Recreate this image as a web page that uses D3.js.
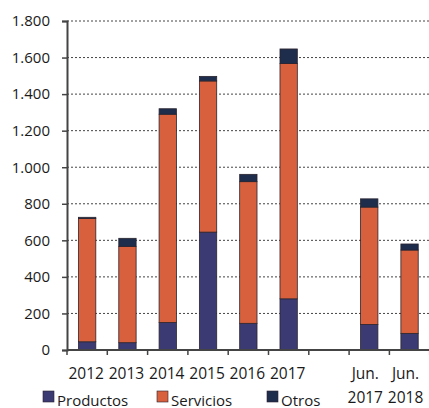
<!DOCTYPE html>
<html>
<head>
<meta charset="utf-8">
<script src="https://cdn.jsdelivr.net/npm/d3@7"></script>
<style>
  body { margin: 0; background: #fff; }
  svg text { font-family: "Open Sans", "Noto Sans", sans-serif; fill: #1a1a1a; }
</style>
</head>
<body>
<svg id="chart" width="429" height="408"></svg>
<script>
// categories, the empty slot stays as a gap between 2017 and Jun. 2017
const categories = ['2012', '2013', '2014', '2015', '2016', '2017', '', 'Jun. 2017', 'Jun. 2018'];
const productos = [45, 40, 150, 645, 146, 280, null, 140, 91];
const servicios = [675, 527, 1140, 827, 775, 1288, null, 642, 456];
const otros = [6, 44, 30, 25, 40, 79, null, 45, 33];
const yTicks = [0, 200, 400, 600, 800, 1000, 1200, 1400, 1600, 1800];
const seriesNames = ['Productos', 'Servicios', 'Otros'];
const colors = ['#3c3a72', '#d9603c', '#1e2d4c'];

const svg = d3.select('#chart');
const margin = {left: 67, right: 0, top: 21, bottom: 58};
const W = 429, H = 408;

const x = d3.scaleBand()
    .domain(categories.map((d, i) => i))
    .range([margin.left, margin.left + 40.3 * 9])
    .paddingInner(0.57).paddingOuter(0.285);
const y = d3.scaleLinear().domain([0, 1800]).range([H - margin.bottom, margin.top]);

const fmt = v => d3.format(',')(v).replace(/,/g, '.');

// dotted gridlines
svg.append('g').selectAll('line')
    .data(yTicks.filter(d => d > 0))
    .join('line')
    .attr('x1', margin.left).attr('x2', W)
    .attr('y1', d => y(d)).attr('y2', d => y(d))
    .attr('stroke', '#444').attr('stroke-width', 1)
    .attr('stroke-dasharray', '2,2');

// stacked bars
const rows = categories.map((c, i) => ({i, Productos: productos[i], Servicios: servicios[i], Otros: otros[i]}))
    .filter(r => r.Productos != null);
const stack = d3.stack().keys(seriesNames)(rows);

svg.append('g').selectAll('g')
    .data(stack)
    .join('g')
    .attr('fill', (d, k) => colors[k])
    .selectAll('rect')
    .data(d => d)
    .join('rect')
    .attr('x', d => x(d.data.i))
    .attr('width', x.bandwidth())
    .attr('y', d => y(d[1]))
    .attr('height', d => y(d[0]) - y(d[1]))
    .attr('stroke', '#2a2430').attr('stroke-width', 0.8);

// y axis
const yAxis = svg.append('g')
    .attr('transform', `translate(${margin.left},0)`)
    .call(d3.axisLeft(y).tickValues(yTicks).tickFormat(fmt).tickSize(5).tickPadding(12));
yAxis.select('.domain').attr('stroke', '#444').attr('stroke-width', 2);
yAxis.selectAll('.tick line').attr('stroke', '#444').attr('stroke-width', 1.5);
yAxis.selectAll('.tick text').attr('font-size', 15).attr('font-family', '"Open Sans", sans-serif').attr('fill', '#1a1a1a');

// x axis with boundary ticks
const xAxisY = y(0);
svg.append('line')
    .attr('x1', margin.left).attr('x2', W)
    .attr('y1', xAxisY).attr('y2', xAxisY)
    .attr('stroke', '#444').attr('stroke-width', 2);
svg.append('g').selectAll('line')
    .data(d3.range(categories.length + 1))
    .join('line')
    .attr('x1', i => margin.left + i * x.step()).attr('x2', i => margin.left + i * x.step())
    .attr('y1', xAxisY).attr('y2', xAxisY + 5)
    .attr('stroke', '#444').attr('stroke-width', 1.5);

// category labels (second line for the Jun. ones)
const labels = svg.append('g').selectAll('text')
    .data(categories.map((c, i) => ({c, i})).filter(d => d.c))
    .join('text')
    .attr('text-anchor', 'middle')
    .attr('font-size', 15.5)
    .attr('font-family', '"Liberation Sans", Arial, sans-serif');
labels.each(function(d) {
  const parts = d.c.split(' ');
  const t = d3.select(this);
  const cx = x(d.i) + x.bandwidth() / 2 - (parts[1] ? 4 : 1);
  t.append('tspan').attr('x', cx).attr('y', 379).text(parts[0]);
  if (parts[1]) t.append('tspan').attr('x', cx).attr('y', 403).text(parts[1]);
});

// legend
const legendX = [43, 157, 267];
const legend = svg.append('g').selectAll('g')
    .data(seriesNames)
    .join('g')
    .attr('transform', (d, k) => `translate(${legendX[k]},391)`);
legend.append('rect').attr('width', 11).attr('height', 11)
    .attr('fill', (d, k) => colors[k]).attr('stroke', '#2a2430').attr('stroke-width', 0.6);
legend.append('text').attr('x', 14).attr('y', 14.5).attr('font-size', 15).text(d => d);
</script>
</body>
</html>
